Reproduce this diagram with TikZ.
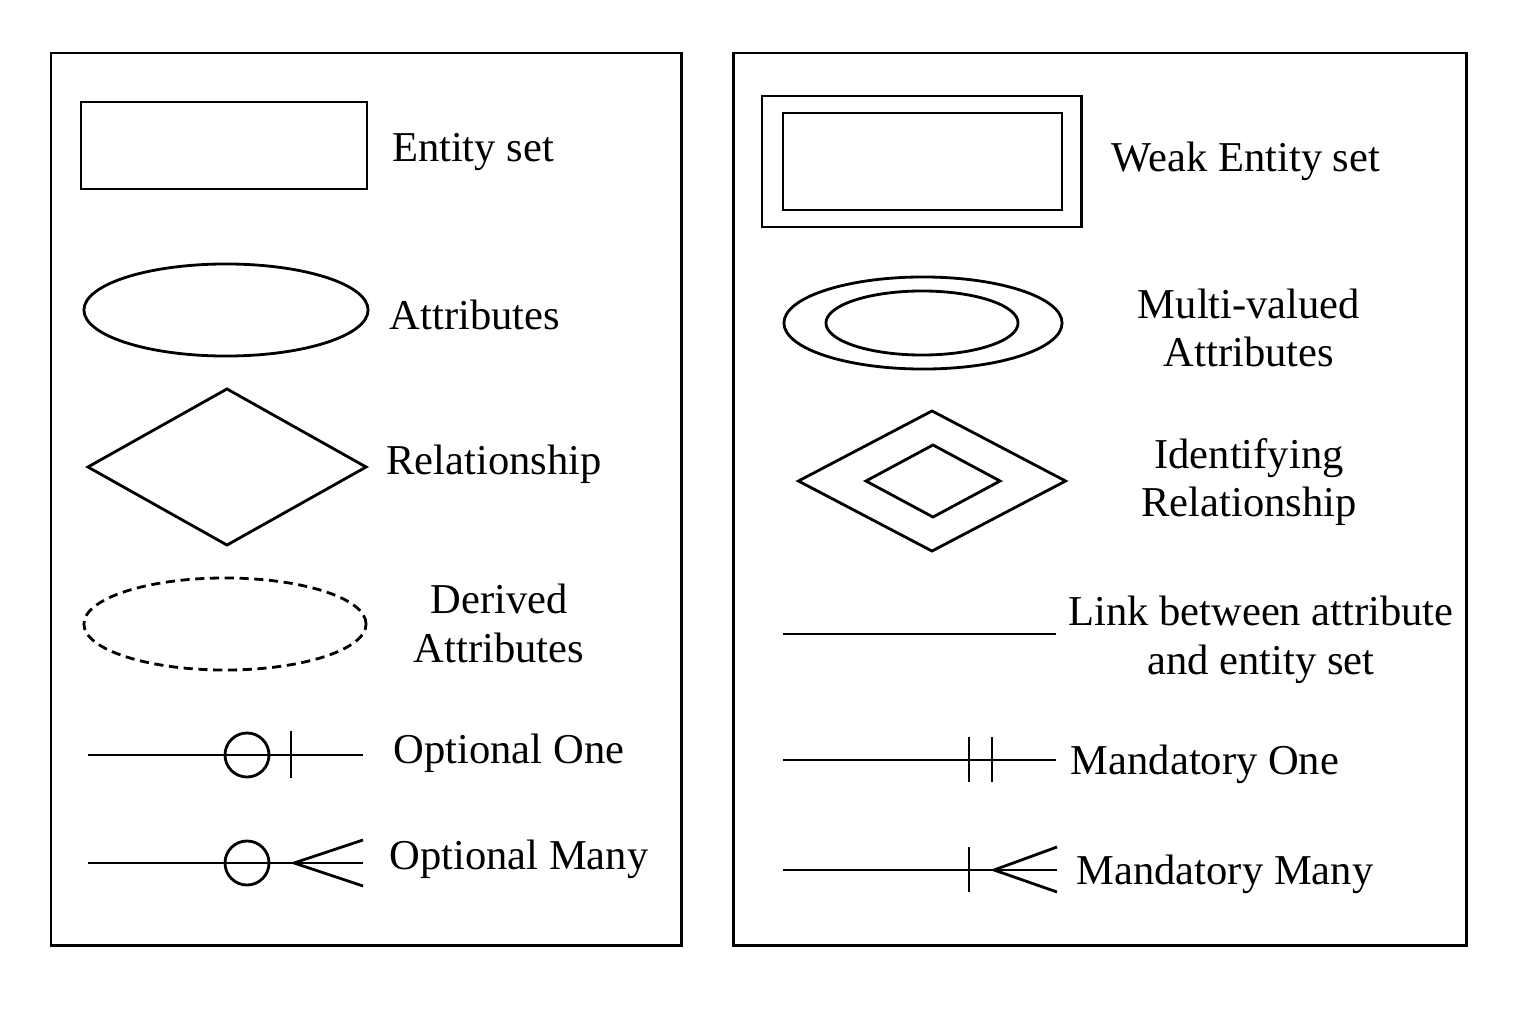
\documentclass[tikz,border=0pt]{standalone}
\usepackage{fontspec}
\setmainfont{Liberation Serif}
\usetikzlibrary{positioning,shapes.geometric}
\tikzset{
  % --- shapes
  sym/.style    = {draw, line width=0.8pt, inner sep=0pt, outer sep=0pt},
  entity/.style = {sym, rectangle, minimum width=2.86cm, minimum height=0.87cm},
  attr/.style   = {sym, ellipse, minimum width=2.84cm, minimum height=0.92cm},
  rel/.style    = {sym, diamond, minimum width=2.78cm, minimum height=1.56cm},
  ring/.style   = {sym, circle, minimum size=0.44cm},
  lbl/.style    = {font=\fontsize{12.1}{13.9}\selectfont, align=center, inner sep=0pt},
  % --- edges
  e/.style      = {line width=0.8pt},
  frame/.style  = {line width=0.85pt},
}

\begin{document}
\begin{tikzpicture}[x=0.01cm,y=-0.01cm]
  \useasboundingbox (0,0) rectangle (1536,1024);
  % panels
  \draw[frame] (51,53) rectangle (681,945);
  \draw[frame] (733,53) rectangle (1466,945);

  % --- left panel
  \node[entity] (ent) at (224,145.5) {};
  \node[lbl] (ent-l) at (473,152) {Entity set};

  \node[attr] (att) at (226,310) {};
  \node[lbl] (att-l) at (475,315) {Attributes};

  \node[rel] (rel) at (227,467) {};
  \node[lbl] (rel-l) at (494,464) {Relationship};

  \node[attr, dash pattern=on 2.6pt off 1.6pt, minimum width=2.82cm] (der) at (225,624) {};
  \node[lbl] (der-l) at (499,623) {Derived\\Attributes};

  \coordinate (oo-a) at (88,755);
  \coordinate (oo-b) at (363,755);
  \coordinate (oo-t) at (291,731);
  \coordinate (oo-u) at (291,778);
  \draw[e] (oo-a) -- (oo-b);
  \node[ring] (oo-c) at (247,755) {};
  \draw[e] (oo-t) -- (oo-u);
  \node[lbl] (oo-l) at (509,753) {Optional One};

  \coordinate (om-a) at (88,863);
  \coordinate (om-b) at (363,863);
  \coordinate (om-v) at (294,863);
  \coordinate (om-t) at (363,840);
  \coordinate (om-u) at (363,886);
  \draw[e] (om-a) -- (om-b);
  \node[ring] (om-c) at (247,863) {};
  \draw[e] (om-t) -- (om-v) -- (om-u);
  \node[lbl] (om-l) at (519,859) {Optional Many};

  % --- right panel
  \node[entity, minimum width=3.19cm, minimum height=1.31cm] (wk) at (921.5,161.5) {};
  \node[entity, minimum width=2.79cm, minimum height=0.97cm] (wk-i) at (922.5,161.5) {};
  \node[lbl] (wk-l) at (1246,161) {Weak Entity set};

  \node[attr, minimum width=2.78cm] (mv) at (923,323) {};
  \node[attr, minimum width=1.92cm, minimum height=0.64cm] (mv-i) at (922,323) {};
  \node[lbl] (mv-l) at (1249,328) {Multi-valued\\Attributes};

  \node[rel, minimum width=2.67cm, minimum height=1.40cm] (id) at (932,481) {};
  \node[rel, minimum width=1.34cm, minimum height=0.72cm] (id-i) at (933,481) {};
  \node[lbl] (id-l) at (1249,482) {Identifying\\Relationship};

  \coordinate (lk-a) at (783,634);
  \coordinate (lk-b) at (1056,634);
  \draw[e] (lk-a) -- (lk-b);
  \node[lbl] (lk-l) at (1261,640) {Link between attribute\\and entity set};

  \coordinate (mo-a) at (783,760);
  \coordinate (mo-b) at (1056,760);
  \coordinate (mo-t) at (969,737);
  \coordinate (mo-u) at (969,782);
  \coordinate (mo-s) at (992,737);
  \coordinate (mo-w) at (992,782);
  \draw[e] (mo-a) -- (mo-b);
  \draw[e] (mo-t) -- (mo-u);
  \draw[e] (mo-s) -- (mo-w);
  \node[lbl] (mo-l) at (1205,764) {Mandatory One};

  \coordinate (mm-a) at (783,870);
  \coordinate (mm-b) at (1057,870);
  \coordinate (mm-v) at (994,870);
  \coordinate (mm-t) at (969,847);
  \coordinate (mm-u) at (969,892);
  \coordinate (mm-s) at (1057,847);
  \coordinate (mm-w) at (1057,892);
  \draw[e] (mm-a) -- (mm-b);
  \draw[e] (mm-t) -- (mm-u);
  \draw[e] (mm-s) -- (mm-v) -- (mm-w);
  \node[lbl] (mm-l) at (1225,874) {Mandatory Many};
\end{tikzpicture}
\end{document}
